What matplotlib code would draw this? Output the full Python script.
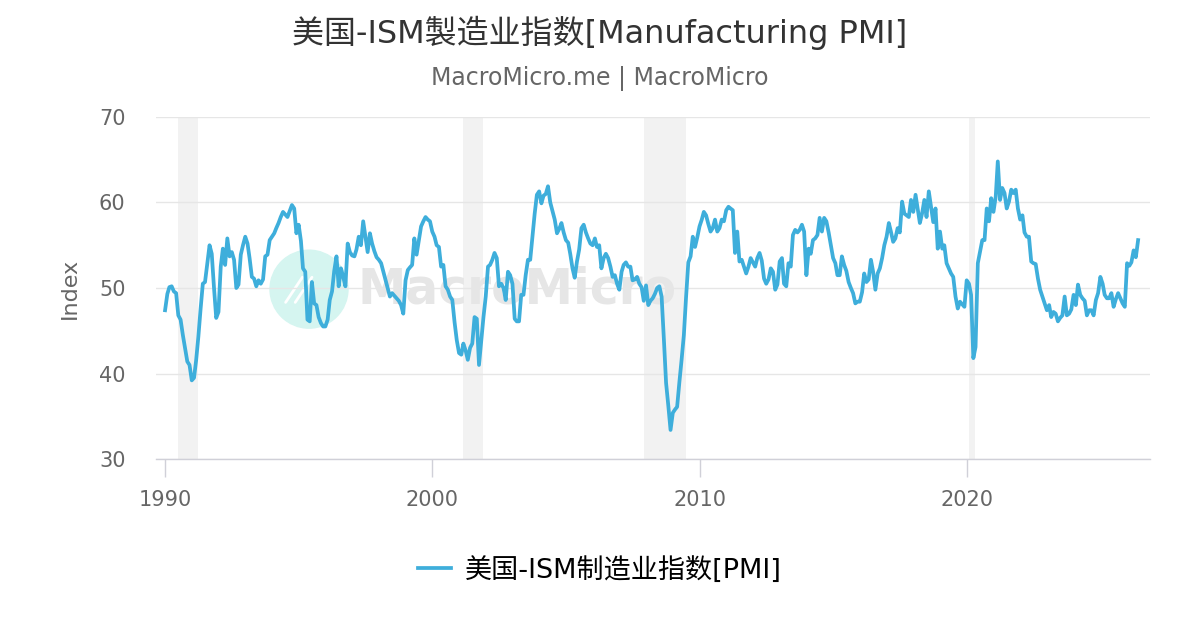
import pandas as pd
import matplotlib
matplotlib.use("Agg")
import matplotlib.pyplot as plt
import matplotlib.dates as mdates
from matplotlib.patches import Ellipse

plt.rcParams['font.family'] = ['DejaVu Sans', 'Noto Sans CJK SC']

TITLE = '美国-ISM製造业指数[Manufacturing PMI]'
SUBTITLE = 'MacroMicro.me | MacroMicro'
SERIES_NAME = '美国-ISM制造业指数[PMI]'
START = '1990-01-01'

# monthly values, one row per year
pmi = [
    47.4, 49.3, 50.1, 50.2, 49.6, 49.4, 46.8, 46.3, 44.5, 43.0, 41.4, 41.0,  # 1990
    39.2, 39.5, 41.5, 44.3, 47.5, 50.5, 50.7, 52.8, 55.0, 54.0, 50.0, 46.5,  # 1991
    47.2, 52.5, 54.6, 52.7, 55.8, 53.7, 54.2, 53.3, 50.0, 50.4, 53.9, 55.0,  # 1992
    56.0, 55.2, 53.5, 51.3, 51.1, 50.2, 50.9, 50.5, 51.0, 53.7, 53.9, 55.6,  # 1993
    56.0, 56.4, 57.0, 57.6, 58.3, 58.9, 58.6, 58.3, 59.0, 59.7, 59.3, 56.4,  # 1994
    57.4, 55.5, 52.3, 51.9, 46.3, 46.1, 50.7, 48.2, 48.0, 46.6, 45.9, 45.5,  # 1995
    45.5, 46.3, 48.6, 49.6, 52.0, 53.7, 50.2, 52.3, 51.3, 50.2, 55.2, 54.2,  # 1996
    53.8, 53.7, 54.5, 56.0, 55.0, 57.8, 56.0, 54.2, 56.4, 55.2, 54.3, 53.6,  # 1997
    53.3, 52.9, 52.0, 51.0, 50.0, 49.0, 49.4, 49.1, 48.8, 48.5, 48.0, 47.0,  # 1998
    50.9, 52.1, 52.4, 52.7, 55.8, 53.9, 55.5, 57.2, 57.8, 58.3, 58.0, 57.8,  # 1999
    56.6, 56.0, 55.0, 54.8, 52.5, 52.7, 50.2, 49.8, 49.0, 48.6, 46.0, 43.9,  # 2000
    42.4, 42.2, 43.5, 42.7, 41.6, 43.0, 43.5, 46.6, 46.4, 41.0, 43.9, 46.6,  # 2001
    49.0, 52.5, 52.7, 53.3, 54.1, 53.5, 50.2, 50.5, 50.0, 48.6, 51.9, 51.5,  # 2002
    50.5, 46.4, 46.1, 46.1, 49.2, 49.2, 51.5, 53.3, 53.3, 56.0, 58.7, 60.9,  # 2003
    61.3, 59.9, 60.8, 61.0, 61.9, 60.0, 59.0, 58.0, 56.4, 56.9, 57.6, 56.5,  # 2004
    55.6, 55.3, 54.0, 52.3, 51.2, 53.1, 54.5, 57.0, 57.4, 56.5, 55.8, 55.2,  # 2005
    55.0, 55.8, 54.8, 55.0, 52.3, 53.5, 54.0, 53.5, 52.5, 51.3, 51.5, 50.5,  # 2006
    49.8, 51.9, 52.7, 53.0, 52.5, 52.5, 50.9, 51.0, 51.3, 50.5, 50.1, 48.5,  # 2007
    50.3, 48.0, 48.5, 48.8, 49.3, 50.0, 50.2, 49.0, 44.0, 38.9, 36.2, 33.4,  # 2008
    35.4, 35.8, 36.1, 39.0, 41.6, 44.5, 48.9, 53.0, 53.7, 56.0, 54.8, 55.9,  # 2009
    57.2, 58.0, 58.9, 58.5, 57.5, 56.6, 57.0, 58.0, 56.6, 57.0, 58.0, 57.8,  # 2010
    59.1, 59.5, 59.3, 59.1, 54.1, 56.6, 53.1, 53.3, 52.5, 51.7, 52.5, 53.5,  # 2011
    53.0, 52.5, 53.5, 54.1, 53.2, 51.1, 50.5, 51.0, 52.3, 51.9, 49.8, 50.4,  # 2012
    53.1, 53.5, 50.5, 50.2, 52.9, 52.5, 56.2, 56.8, 56.5, 56.8, 57.4, 56.6,  # 2013
    51.5, 54.6, 54.0, 55.6, 55.8, 56.2, 58.2, 56.6, 58.2, 57.8, 56.5, 55.0,  # 2014
    53.5, 52.9, 51.5, 51.5, 53.7, 52.7, 52.0, 50.7, 50.0, 49.4, 48.2, 48.4,  # 2015
    48.4, 49.5, 51.7, 50.7, 51.0, 53.3, 51.9, 49.8, 51.7, 52.3, 53.5, 55.0,  # 2016
    56.0, 57.6, 56.6, 55.4, 55.8, 57.0, 56.5, 60.1, 58.7, 58.5, 58.3, 60.3,  # 2017
    58.9, 60.9, 59.3, 57.6, 58.7, 60.3, 58.3, 61.3, 59.5, 57.7, 59.3, 54.6,  # 2018
    56.6, 54.6, 55.0, 52.9, 52.3, 51.7, 51.3, 49.0, 47.6, 48.4, 48.1, 47.8,  # 2019
    50.9, 50.5, 49.2, 41.8, 43.1, 52.9, 54.2, 55.6, 55.6, 59.3, 57.8, 60.5,  # 2020
    58.9, 60.7, 64.8, 60.3, 61.7, 61.1, 59.3, 60.1, 61.5, 61.1, 61.5, 59.3,  # 2021
    58.0, 58.5, 56.5, 56.0, 56.0, 53.1, 52.9, 52.8, 51.1, 49.8, 49.0, 48.2,  # 2022
    47.4, 48.0, 46.6, 47.2, 47.0, 46.1, 46.5, 46.8, 49.0, 46.8, 47.0, 47.5,  # 2023
    49.2, 48.0, 50.4, 49.2, 48.8, 48.5, 46.8, 47.4, 47.4, 46.8, 48.6, 49.4,  # 2024
    51.3, 50.5, 49.2, 48.8, 48.8, 49.4, 47.8, 48.7, 49.4, 48.8, 48.2, 47.8,  # 2025
    52.9, 52.6, 53.0, 54.4, 53.6, 55.6,                                      # 2026
]

# US recessions (shaded)
rec_start = ['1990-07-01', '2001-03-01', '2007-12-01', '2020-02-01']
rec_end = ['1991-03-31', '2001-11-30', '2009-06-30', '2020-04-30']

dates = pd.date_range(START, periods=len(pmi), freq='MS')

fig = plt.figure(figsize=(12, 6.3), dpi=100)
ax = fig.add_axes([0.13, 0.2714, 0.8283, 0.5429])

for s, e in zip(rec_start, rec_end):
    ax.axvspan(pd.Timestamp(s), pd.Timestamp(e), color='#f2f2f2', zorder=0, lw=0)

line, = ax.plot(dates, pmi, color='#3eaedb', lw=2.7, zorder=3, label=SERIES_NAME)

ax.set_ylim(30, 70)
ax.set_yticks([30, 40, 50, 60, 70])
ax.set_xlim(pd.Timestamp('1989-08-30'), pd.Timestamp('2026-11-10'))
ax.xaxis.set_major_locator(mdates.YearLocator(10))
ax.xaxis.set_major_formatter(mdates.DateFormatter('%Y'))

ax.grid(axis='y', color='#e6e6e6', lw=1, zorder=1)
for sp in ['top', 'right', 'left']:
    ax.spines[sp].set_visible(False)
ax.spines['bottom'].set_color('#d0d0d8')
ax.spines['bottom'].set_linewidth(1)
ax.tick_params(axis='x', colors='#666666', labelsize=15, length=13, width=1,
               color='#d0d0d8', pad=9)
ax.tick_params(axis='y', colors='#666666', labelsize=15, length=0, pad=22)
ax.set_ylabel('Index', color='#666666', fontsize=16, labelpad=14)

# watermark
wm = Ellipse((0.2575, 0.541), 78 / 1200, 78 / 630, transform=fig.transFigure,
             color='#d5f5f0', zorder=0.5)
ax.add_patch(wm)
wm.set_clip_on(False)
for dx in (0.0, 0.008):
    ax.plot([0.238 + dx, 0.252 + dx], [0.520, 0.560], transform=fig.transFigure,
            color='white', lw=2, zorder=0.55, solid_capstyle='round', clip_on=False)
ax.text(0.431, 0.541, 'MacroMicro', transform=fig.transFigure, ha='center',
        va='center', fontsize=35, fontweight='bold', color='#e6e6e6', zorder=0.6)

fig.text(0.5, 0.948, TITLE, ha='center', va='center', fontsize=23, color='#333333')
fig.text(0.5, 0.876, SUBTITLE, ha='center', va='center', fontsize=17, color='#666666')

fig.legend(handles=[line], loc='center', bbox_to_anchor=(0.5, 0.095), frameon=False,
           fontsize=19.5, handlelength=1.2, handletextpad=0.5)

fig.savefig('out.png', dpi=100)
